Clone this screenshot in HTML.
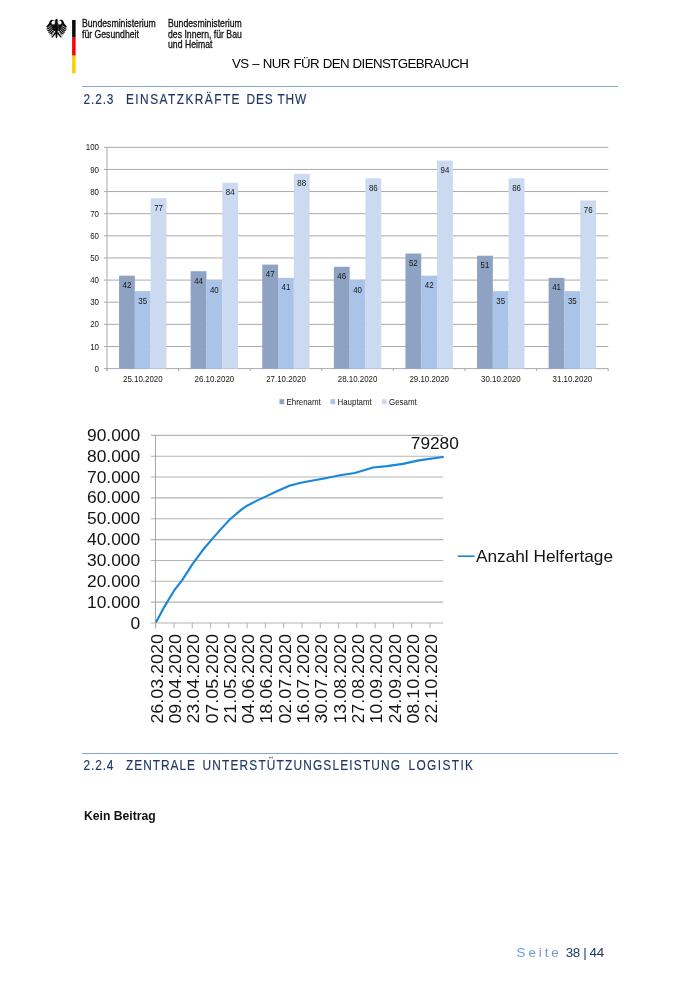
<!DOCTYPE html>
<html><head><meta charset="utf-8"><title>Seite 38</title>
<style>
html,body{margin:0;padding:0;background:#fff;}
body{width:700px;height:990px;position:relative;overflow:hidden;font-family:"Liberation Sans",sans-serif;color:#000;}
.abs{position:absolute;white-space:nowrap;}
.logo{font-size:10.4px;line-height:10.65px;color:#111;transform:scaleX(0.835);transform-origin:0 0;-webkit-text-stroke:0.3px #111;}
.hd{font-size:12.9px;letter-spacing:0.55px;color:#1f3864;}
.rule{position:absolute;left:81.8px;width:536.5px;height:1.2px;background:#86a7d8;}
svg{position:absolute;left:0;top:0;}
.bt{font-family:"Liberation Sans",sans-serif;font-size:8.8px;fill:#161616;transform-box:fill-box;transform:scaleX(0.9);}
.bte{text-anchor:end;transform-origin:100% 50%;}
.btm{text-anchor:middle;transform-origin:50% 50%;}
.bts{text-anchor:start;transform-origin:0% 50%;}
.hw{font-family:"Liberation Sans",sans-serif;font-size:14px;fill:#1f3864;stroke:#1f3864;stroke-width:0.15px;}
.lt{font-family:"Liberation Sans",sans-serif;font-size:17px;fill:#141414;}
#wrap{position:absolute;left:0;top:0;width:700px;height:990px;will-change:transform;}
</style></head><body>
<div id="wrap">
<!-- header logo -->
<svg width="700" height="990" viewBox="0 0 700 990">
<g id="eagle" transform="translate(40,12) scale(0.05714)">
<g fill="#0a0a0a" stroke="none">
<path d="M266 150 C266 128 282 118 296 122 C310 126 314 142 308 156 L312 200 L316 300 L308 360 L302 440 L288 462 L274 440 L268 360 L260 300 L264 200 Z"/>
<path d="M248 150 L270 138 L270 160 Z"/>
<path id="lw" d="M262 215 C262 170 240 138 214 136 C186 134 166 160 158 196 L106 262 L128 268 L112 300 L138 302 L124 334 L152 334 L142 364 L170 362 L164 392 L192 386 L190 414 L216 400 L262 320 Z"/>
<path d="M318 215 C318 170 340 138 366 136 C394 134 414 160 422 196 L474 262 L452 268 L468 300 L442 302 L456 334 L428 334 L438 364 L410 362 L416 392 L388 386 L390 414 L364 400 L318 320 Z"/>
<path d="M268 340 L206 432 L186 428 L196 444 L222 446 L282 372 Z"/>
<path d="M312 340 L374 432 L394 428 L384 444 L358 446 L298 372 Z"/>
</g>
<g fill="#fff">
<ellipse cx="231" cy="187" rx="30" ry="33"/>
<ellipse cx="347" cy="187" rx="30" ry="33"/>
</g>
<g stroke="#fff" stroke-width="12" stroke-linecap="butt" fill="none" opacity="0.92">
<path d="M196 236 L126 282 M206 262 L134 318 M218 288 L150 350 M232 312 L170 378 M246 336 L196 402"/>
<path d="M384 236 L454 282 M374 262 L446 318 M362 288 L430 350 M348 312 L410 378 M334 336 L384 402"/>
</g>
</g>
<rect x="72.1" y="20" width="3.5" height="17.7" fill="#0a0a0a"/>
<rect x="72.1" y="37.7" width="3.5" height="18" fill="#ff0000"/>
<rect x="72.1" y="55.7" width="3.5" height="17.7" fill="#ffcc00"/>
</svg>
<div class="abs logo" style="left:81.7px;top:19.1px;">Bundesministerium<br>für Gesundheit</div>
<div class="abs logo" style="left:168.0px;top:19.1px;">Bundesministerium<br>des Innern, für Bau<br>und Heimat</div>
<div class="abs" id="vs" style="left:232px;top:56.1px;font-size:13.3px;letter-spacing:-0.6px;word-spacing:0.6px;">VS – NUR FÜR DEN DIENSTGEBRAUCH</div>
<div class="rule" style="top:86.3px;"></div>
<svg width="700" height="990" viewBox="0 0 700 990">
<text transform="translate(83.6,103.5) scale(0.85,1)" class="hw" textLength="35.1" lengthAdjust="spacing">2.2.3</text>
<text transform="translate(126,103.5) scale(0.85,1)" class="hw" textLength="133.6" lengthAdjust="spacing">EINSATZKRÄFTE</text>
<text transform="translate(246.6,103.5) scale(0.85,1)" class="hw" textLength="70.2" lengthAdjust="spacing">DES THW</text>
<text transform="translate(83.6,769.7) scale(0.85,1)" class="hw" textLength="35.1" lengthAdjust="spacing">2.2.4</text>
<text transform="translate(126,769.7) scale(0.85,1)" class="hw" textLength="81.2" lengthAdjust="spacing">ZENTRALE</text>
<text transform="translate(202.5,769.7) scale(0.85,1)" class="hw" textLength="232.5" lengthAdjust="spacing">UNTERSTÜTZUNGSLEISTUNG</text>
<text transform="translate(408.5,769.7) scale(0.85,1)" class="hw" textLength="75.9" lengthAdjust="spacing">LOGISTIK</text>
<line x1="104.0" y1="368.60" x2="608.3" y2="368.60" stroke="#a9a9a9" stroke-width="1"/>
<text x="99.0" y="371.70" class="bt bte">0</text>
<line x1="104.0" y1="346.47" x2="608.3" y2="346.47" stroke="#a9a9a9" stroke-width="1"/>
<text x="99.0" y="349.57" class="bt bte">10</text>
<line x1="104.0" y1="324.34" x2="608.3" y2="324.34" stroke="#a9a9a9" stroke-width="1"/>
<text x="99.0" y="327.44" class="bt bte">20</text>
<line x1="104.0" y1="302.21" x2="608.3" y2="302.21" stroke="#a9a9a9" stroke-width="1"/>
<text x="99.0" y="305.31" class="bt bte">30</text>
<line x1="104.0" y1="280.08" x2="608.3" y2="280.08" stroke="#a9a9a9" stroke-width="1"/>
<text x="99.0" y="283.18" class="bt bte">40</text>
<line x1="104.0" y1="257.95" x2="608.3" y2="257.95" stroke="#a9a9a9" stroke-width="1"/>
<text x="99.0" y="261.05" class="bt bte">50</text>
<line x1="104.0" y1="235.82" x2="608.3" y2="235.82" stroke="#a9a9a9" stroke-width="1"/>
<text x="99.0" y="238.92" class="bt bte">60</text>
<line x1="104.0" y1="213.69" x2="608.3" y2="213.69" stroke="#a9a9a9" stroke-width="1"/>
<text x="99.0" y="216.79" class="bt bte">70</text>
<line x1="104.0" y1="191.56" x2="608.3" y2="191.56" stroke="#a9a9a9" stroke-width="1"/>
<text x="99.0" y="194.66" class="bt bte">80</text>
<line x1="104.0" y1="169.43" x2="608.3" y2="169.43" stroke="#a9a9a9" stroke-width="1"/>
<text x="99.0" y="172.53" class="bt bte">90</text>
<line x1="104.0" y1="147.30" x2="608.3" y2="147.30" stroke="#a9a9a9" stroke-width="1"/>
<text x="99.0" y="150.40" class="bt bte">100</text>
<line x1="107.0" y1="147.30" x2="107.0" y2="371.10" stroke="#a9a9a9" stroke-width="1"/>
<line x1="107.0" y1="368.60" x2="107.0" y2="371.10" stroke="#a9a9a9" stroke-width="1"/>
<line x1="178.6" y1="368.60" x2="178.6" y2="371.10" stroke="#a9a9a9" stroke-width="1"/>
<line x1="250.2" y1="368.60" x2="250.2" y2="371.10" stroke="#a9a9a9" stroke-width="1"/>
<line x1="321.8" y1="368.60" x2="321.8" y2="371.10" stroke="#a9a9a9" stroke-width="1"/>
<line x1="393.4" y1="368.60" x2="393.4" y2="371.10" stroke="#a9a9a9" stroke-width="1"/>
<line x1="465.0" y1="368.60" x2="465.0" y2="371.10" stroke="#a9a9a9" stroke-width="1"/>
<line x1="536.6" y1="368.60" x2="536.6" y2="371.10" stroke="#a9a9a9" stroke-width="1"/>
<line x1="608.2" y1="368.60" x2="608.2" y2="371.10" stroke="#a9a9a9" stroke-width="1"/>
<rect x="119.05" y="275.65" width="15.80" height="92.95" fill="#8ea3c4"/>
<text x="126.95" y="288.15" class="bt btm">42</text>
<rect x="134.85" y="291.15" width="15.80" height="77.45" fill="#a9c3e9"/>
<text x="142.75" y="303.65" class="bt btm">35</text>
<rect x="150.65" y="198.20" width="15.80" height="170.40" fill="#cbdaf1"/>
<text x="158.55" y="210.70" class="bt btm">77</text>
<text x="142.80" y="382.50" class="bt btm">25.10.2020</text>
<rect x="190.65" y="271.23" width="15.80" height="97.37" fill="#8ea3c4"/>
<text x="198.55" y="283.73" class="bt btm">44</text>
<rect x="206.45" y="280.08" width="15.80" height="88.52" fill="#a9c3e9"/>
<text x="214.35" y="292.58" class="bt btm">40</text>
<rect x="222.25" y="182.71" width="15.80" height="185.89" fill="#cbdaf1"/>
<text x="230.15" y="195.21" class="bt btm">84</text>
<text x="214.40" y="382.50" class="bt btm">26.10.2020</text>
<rect x="262.25" y="264.59" width="15.80" height="104.01" fill="#8ea3c4"/>
<text x="270.15" y="277.09" class="bt btm">47</text>
<rect x="278.05" y="277.87" width="15.80" height="90.73" fill="#a9c3e9"/>
<text x="285.95" y="290.37" class="bt btm">41</text>
<rect x="293.85" y="173.86" width="15.80" height="194.74" fill="#cbdaf1"/>
<text x="301.75" y="186.36" class="bt btm">88</text>
<text x="286.00" y="382.50" class="bt btm">27.10.2020</text>
<rect x="333.85" y="266.80" width="15.80" height="101.80" fill="#8ea3c4"/>
<text x="341.75" y="279.30" class="bt btm">46</text>
<rect x="349.65" y="280.08" width="15.80" height="88.52" fill="#a9c3e9"/>
<text x="357.55" y="292.58" class="bt btm">40</text>
<rect x="365.45" y="178.28" width="15.80" height="190.32" fill="#cbdaf1"/>
<text x="373.35" y="190.78" class="bt btm">86</text>
<text x="357.60" y="382.50" class="bt btm">28.10.2020</text>
<rect x="405.45" y="253.52" width="15.80" height="115.08" fill="#8ea3c4"/>
<text x="413.35" y="266.02" class="bt btm">52</text>
<rect x="421.25" y="275.65" width="15.80" height="92.95" fill="#a9c3e9"/>
<text x="429.15" y="288.15" class="bt btm">42</text>
<rect x="437.05" y="160.58" width="15.80" height="208.02" fill="#cbdaf1"/>
<text x="444.95" y="173.08" class="bt btm">94</text>
<text x="429.20" y="382.50" class="bt btm">29.10.2020</text>
<rect x="477.05" y="255.74" width="15.80" height="112.86" fill="#8ea3c4"/>
<text x="484.95" y="268.24" class="bt btm">51</text>
<rect x="492.85" y="291.15" width="15.80" height="77.45" fill="#a9c3e9"/>
<text x="500.75" y="303.65" class="bt btm">35</text>
<rect x="508.65" y="178.28" width="15.80" height="190.32" fill="#cbdaf1"/>
<text x="516.55" y="190.78" class="bt btm">86</text>
<text x="500.80" y="382.50" class="bt btm">30.10.2020</text>
<rect x="548.65" y="277.87" width="15.80" height="90.73" fill="#8ea3c4"/>
<text x="556.55" y="290.37" class="bt btm">41</text>
<rect x="564.45" y="291.15" width="15.80" height="77.45" fill="#a9c3e9"/>
<text x="572.35" y="303.65" class="bt btm">35</text>
<rect x="580.25" y="200.41" width="15.80" height="168.19" fill="#cbdaf1"/>
<text x="588.15" y="212.91" class="bt btm">76</text>
<text x="572.40" y="382.50" class="bt btm">31.10.2020</text>
<rect x="279.5" y="399.2" width="4.7" height="5" fill="#8ea3c4"/>
<text x="286.5" y="404.8" class="bt bts">Ehrenamt</text>
<rect x="330.5" y="399.2" width="4.7" height="5" fill="#a9c3e9"/>
<text x="337.5" y="404.8" class="bt bts">Hauptamt</text>
<rect x="382.0" y="399.2" width="4.7" height="5" fill="#cbdaf1"/>
<text x="389.0" y="404.8" class="bt bts">Gesamt</text>
<line x1="150.8" y1="623.00" x2="443.2" y2="623.00" stroke="#b4b4b4" stroke-width="1.1"/>
<text x="130.5" y="628.55" class="lt" textLength="9.7" lengthAdjust="spacingAndGlyphs">0</text>
<line x1="150.8" y1="602.15" x2="443.2" y2="602.15" stroke="#b4b4b4" stroke-width="1.1"/>
<text x="87.0" y="607.70" class="lt" textLength="53.2" lengthAdjust="spacingAndGlyphs">10.000</text>
<line x1="150.8" y1="581.30" x2="443.2" y2="581.30" stroke="#b4b4b4" stroke-width="1.1"/>
<text x="87.0" y="586.85" class="lt" textLength="53.2" lengthAdjust="spacingAndGlyphs">20.000</text>
<line x1="150.8" y1="560.45" x2="443.2" y2="560.45" stroke="#b4b4b4" stroke-width="1.1"/>
<text x="87.0" y="566.00" class="lt" textLength="53.2" lengthAdjust="spacingAndGlyphs">30.000</text>
<line x1="150.8" y1="539.60" x2="443.2" y2="539.60" stroke="#b4b4b4" stroke-width="1.1"/>
<text x="87.0" y="545.15" class="lt" textLength="53.2" lengthAdjust="spacingAndGlyphs">40.000</text>
<line x1="150.8" y1="518.75" x2="443.2" y2="518.75" stroke="#b4b4b4" stroke-width="1.1"/>
<text x="87.0" y="524.30" class="lt" textLength="53.2" lengthAdjust="spacingAndGlyphs">50.000</text>
<line x1="150.8" y1="497.90" x2="443.2" y2="497.90" stroke="#b4b4b4" stroke-width="1.1"/>
<text x="87.0" y="503.45" class="lt" textLength="53.2" lengthAdjust="spacingAndGlyphs">60.000</text>
<line x1="150.8" y1="477.05" x2="443.2" y2="477.05" stroke="#b4b4b4" stroke-width="1.1"/>
<text x="87.0" y="482.60" class="lt" textLength="53.2" lengthAdjust="spacingAndGlyphs">70.000</text>
<line x1="150.8" y1="456.20" x2="443.2" y2="456.20" stroke="#b4b4b4" stroke-width="1.1"/>
<text x="87.0" y="461.75" class="lt" textLength="53.2" lengthAdjust="spacingAndGlyphs">80.000</text>
<line x1="150.8" y1="435.35" x2="443.2" y2="435.35" stroke="#b4b4b4" stroke-width="1.1"/>
<text x="87.0" y="440.90" class="lt" textLength="53.2" lengthAdjust="spacingAndGlyphs">90.000</text>
<line x1="155.45" y1="435.35" x2="155.45" y2="628.40" stroke="#9a9a9a" stroke-width="0.9"/>
<line x1="155.65" y1="623.00" x2="155.65" y2="628.40" stroke="#b4b4b4" stroke-width="1"/>
<text transform="translate(162.75,723.6) rotate(-90)" class="lt" textLength="89.5" lengthAdjust="spacingAndGlyphs">26.03.2020</text>
<line x1="173.94" y1="623.00" x2="173.94" y2="628.40" stroke="#b4b4b4" stroke-width="1"/>
<text transform="translate(181.04,723.6) rotate(-90)" class="lt" textLength="89.5" lengthAdjust="spacingAndGlyphs">09.04.2020</text>
<line x1="192.23" y1="623.00" x2="192.23" y2="628.40" stroke="#b4b4b4" stroke-width="1"/>
<text transform="translate(199.33,723.6) rotate(-90)" class="lt" textLength="89.5" lengthAdjust="spacingAndGlyphs">23.04.2020</text>
<line x1="210.52" y1="623.00" x2="210.52" y2="628.40" stroke="#b4b4b4" stroke-width="1"/>
<text transform="translate(217.62,723.6) rotate(-90)" class="lt" textLength="89.5" lengthAdjust="spacingAndGlyphs">07.05.2020</text>
<line x1="228.81" y1="623.00" x2="228.81" y2="628.40" stroke="#b4b4b4" stroke-width="1"/>
<text transform="translate(235.91,723.6) rotate(-90)" class="lt" textLength="89.5" lengthAdjust="spacingAndGlyphs">21.05.2020</text>
<line x1="247.10" y1="623.00" x2="247.10" y2="628.40" stroke="#b4b4b4" stroke-width="1"/>
<text transform="translate(254.20,723.6) rotate(-90)" class="lt" textLength="89.5" lengthAdjust="spacingAndGlyphs">04.06.2020</text>
<line x1="265.39" y1="623.00" x2="265.39" y2="628.40" stroke="#b4b4b4" stroke-width="1"/>
<text transform="translate(272.49,723.6) rotate(-90)" class="lt" textLength="89.5" lengthAdjust="spacingAndGlyphs">18.06.2020</text>
<line x1="283.68" y1="623.00" x2="283.68" y2="628.40" stroke="#b4b4b4" stroke-width="1"/>
<text transform="translate(290.78,723.6) rotate(-90)" class="lt" textLength="89.5" lengthAdjust="spacingAndGlyphs">02.07.2020</text>
<line x1="301.97" y1="623.00" x2="301.97" y2="628.40" stroke="#b4b4b4" stroke-width="1"/>
<text transform="translate(309.07,723.6) rotate(-90)" class="lt" textLength="89.5" lengthAdjust="spacingAndGlyphs">16.07.2020</text>
<line x1="320.26" y1="623.00" x2="320.26" y2="628.40" stroke="#b4b4b4" stroke-width="1"/>
<text transform="translate(327.36,723.6) rotate(-90)" class="lt" textLength="89.5" lengthAdjust="spacingAndGlyphs">30.07.2020</text>
<line x1="338.55" y1="623.00" x2="338.55" y2="628.40" stroke="#b4b4b4" stroke-width="1"/>
<text transform="translate(345.65,723.6) rotate(-90)" class="lt" textLength="89.5" lengthAdjust="spacingAndGlyphs">13.08.2020</text>
<line x1="356.84" y1="623.00" x2="356.84" y2="628.40" stroke="#b4b4b4" stroke-width="1"/>
<text transform="translate(363.94,723.6) rotate(-90)" class="lt" textLength="89.5" lengthAdjust="spacingAndGlyphs">27.08.2020</text>
<line x1="375.13" y1="623.00" x2="375.13" y2="628.40" stroke="#b4b4b4" stroke-width="1"/>
<text transform="translate(382.23,723.6) rotate(-90)" class="lt" textLength="89.5" lengthAdjust="spacingAndGlyphs">10.09.2020</text>
<line x1="393.42" y1="623.00" x2="393.42" y2="628.40" stroke="#b4b4b4" stroke-width="1"/>
<text transform="translate(400.52,723.6) rotate(-90)" class="lt" textLength="89.5" lengthAdjust="spacingAndGlyphs">24.09.2020</text>
<line x1="411.71" y1="623.00" x2="411.71" y2="628.40" stroke="#b4b4b4" stroke-width="1"/>
<text transform="translate(418.81,723.6) rotate(-90)" class="lt" textLength="89.5" lengthAdjust="spacingAndGlyphs">08.10.2020</text>
<line x1="430.00" y1="623.00" x2="430.00" y2="628.40" stroke="#b4b4b4" stroke-width="1"/>
<text transform="translate(437.10,723.6) rotate(-90)" class="lt" textLength="89.5" lengthAdjust="spacingAndGlyphs">22.10.2020</text>
<polyline fill="none" stroke="#1787d9" stroke-width="2.15" stroke-linejoin="round" stroke-linecap="round" points="156.4,621.6 163.7,607.9 174,590.7 182,580.4 192.3,564.4 202.6,550.3 212.9,538.1 222,527.9 230,519.2 241.4,509.6 247.1,505.7 257.4,500.4 266.6,496.1 278,490.8 289.4,485.8 300.9,482.8 310,481 322.9,478.7 340,475.3 354.9,473 373.1,467.5 386.9,466.1 402.9,463.9 418.9,460.4 442.9,457"/>
<text x="410.8" y="449" class="lt" textLength="48" lengthAdjust="spacingAndGlyphs">79280</text>
<line x1="457.7" y1="556.2" x2="474.6" y2="556.2" stroke="#1787d9" stroke-width="1.6"/>
<text x="476" y="561.7" class="lt" textLength="137" lengthAdjust="spacingAndGlyphs">Anzahl Helfertage</text>
</svg>
<div class="rule" style="top:752.5px;"></div>
<div class="abs" id="kb" style="left:84px;top:807.6px;font-size:13.3px;font-weight:bold;color:#111;transform:scaleX(0.915);transform-origin:0 0;">Kein Beitrag</div>
<div class="abs" id="ft" style="left:516.5px;top:945.1px;font-size:13.4px;"><span style="color:#6a9bd8;letter-spacing:2.95px;">Seite</span><span style="color:#1f3864;margin-left:0.6px;letter-spacing:-0.35px;"> 38<span style="padding:0 3.2px 0 3.3px;">|</span>44</span></div>
</div>
</body></html>
